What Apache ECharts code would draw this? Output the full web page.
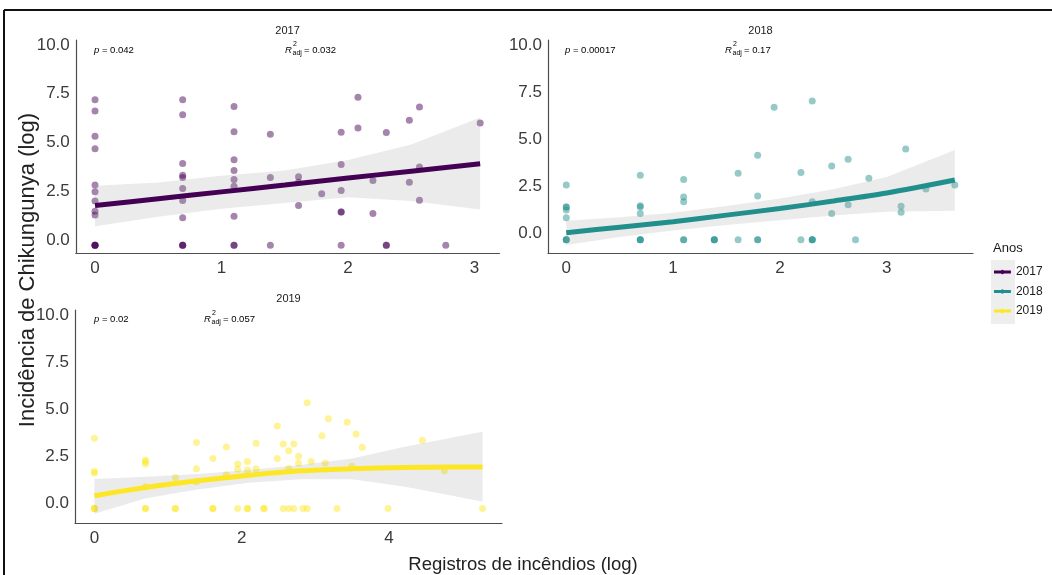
<!DOCTYPE html>
<html>
<head>
<meta charset="utf-8">
<script src="https://cdn.jsdelivr.net/npm/echarts@6/dist/echarts.min.js"></script>
<style>
  html, body { margin: 0; padding: 0; background: #ffffff; }
  #chart { width: 1052px; height: 575px; }
</style>
</head>
<body>
<div id="chart"></div>
<script>
// Facet years and their viridis colours
const years = ['2017', '2018', '2019'];
const yearColors = ['#440154', '#21908C', '#FDE725'];

// Observations per year: [log fire records, log chikungunya incidence]
const points2017 = [
  [0, 7.19], [0, 6.62], [0, 5.32], [0, 4.68], [0, 2.82], [0, 2.48], [0, 2.00], [0, 1.48], [0, 1.28],
  [0, -0.27], [0, -0.27], [0, -0.27], [0, -0.27],
  [0.693, 7.19], [0.693, 6.43], [0.693, 3.93], [0.693, 3.32], [0.693, 3.21], [0.693, 2.64], [0.693, 2.03],
  [0.693, 1.14], [0.693, -0.27], [0.693, -0.27], [0.693, -0.27],
  [1.099, 6.85], [1.099, 5.56], [1.099, 4.12], [1.099, 3.57], [1.099, 3.11], [1.099, 2.76], [1.099, 1.22],
  [1.099, -0.27], [1.099, -0.27],
  [1.386, 5.42], [1.386, 3.21], [1.386, -0.27],
  [1.609, 3.25], [1.609, 2.97], [1.609, 1.77],
  [1.792, 2.38],
  [1.946, 5.53], [1.946, 3.88], [1.946, 2.54], [1.946, 1.44], [1.946, 1.44], [1.946, -0.27],
  [2.079, 7.33], [2.079, 5.75],
  [2.197, 3.05], [2.197, 1.36],
  [2.303, 5.51], [2.303, -0.27], [2.303, -0.27],
  [2.485, 6.14], [2.485, 2.96],
  [2.565, 6.82], [2.565, 3.74], [2.565, 2.04],
  [2.773, -0.27],
  [3.045, 6.00]
];
const points2018 = [
  [0, 2.57], [0, 1.40], [0, 1.40], [0, 1.24], [0, 0.83], [0, -0.34], [0, -0.34], [0, -0.34],
  [0.693, 3.09], [0.693, 1.47], [0.693, 1.40], [0.693, 1.06], [0.693, -0.34], [0.693, -0.34], [0.693, -0.34],
  [1.099, 2.87], [1.099, 1.93], [1.099, 1.68], [1.099, -0.34], [1.099, -0.34],
  [1.386, -0.34], [1.386, -0.34], [1.386, -0.34],
  [1.609, 3.19], [1.609, -0.34],
  [1.792, 4.15], [1.792, 1.98], [1.792, -0.34], [1.792, -0.34],
  [1.946, 6.70],
  [2.197, 3.24], [2.197, -0.34],
  [2.303, 7.04], [2.303, 1.68], [2.303, -0.34], [2.303, -0.34], [2.303, -0.34],
  [2.485, 3.58], [2.485, 1.06],
  [2.639, 3.94], [2.639, 1.52],
  [2.708, -0.34],
  [2.833, 2.93],
  [3.135, 1.44], [3.135, 1.12],
  [3.178, 4.48],
  [3.367, 2.36],
  [3.638, 2.57]
];
const points2019 = [
  [0, 3.46], [0, 1.70], [0, 1.61], [0, -0.27], [0, -0.27], [0, -0.27],
  [0.693, 2.30], [0.693, 2.21], [0.693, 2.09], [0.693, 0.88], [0.693, -0.27], [0.693, -0.27],
  [1.099, 1.38], [1.099, -0.27], [1.099, -0.27],
  [1.386, 3.24], [1.386, 1.84], [1.386, 1.15],
  [1.609, 2.39], [1.609, -0.27], [1.609, -0.27],
  [1.792, 3.00], [1.792, 1.52],
  [1.946, 2.09], [1.946, 1.82], [1.946, -0.27],
  [2.079, 2.23], [2.079, 1.77], [2.079, -0.27], [2.079, -0.27],
  [2.197, 3.19], [2.197, 1.84],
  [2.303, -0.27], [2.303, -0.27],
  [2.485, 4.11], [2.485, 2.39],
  [2.565, 3.15], [2.565, -0.27],
  [2.639, 2.80], [2.639, 1.86], [2.639, -0.27],
  [2.708, 3.15], [2.708, -0.27],
  [2.773, 2.50], [2.773, 2.13],
  [2.833, -0.27],
  [2.890, 5.35], [2.890, -0.27],
  [2.944, 2.23],
  [3.091, 3.60],
  [3.135, 2.14],
  [3.178, 4.50],
  [3.296, -0.27],
  [3.434, 4.31],
  [3.497, 1.97],
  [3.555, 3.69],
  [3.638, 2.98],
  [3.989, -0.27],
  [4.454, 3.35],
  [4.754, 1.73],
  [5.273, -0.27]
];

// Fitted trend and its confidence band, sampled along x
const fitX2017 = [0, 0.5, 1, 1.5, 2, 2.5, 3.045];
const fitY2017 = [1.77, 2.12, 2.47, 2.82, 3.18, 3.53, 3.91];
const ciLow2017 = [0.71, 1.20, 1.60, 1.90, 2.20, 2.00, 1.57];
const ciHigh2017 = [2.78, 2.95, 3.30, 3.57, 4.10, 4.90, 6.29];

const fitX2018 = [0, 0.5, 1, 1.5, 2, 2.5, 3, 3.638];
const fitY2018 = [0.03, 0.33, 0.62, 0.97, 1.32, 1.72, 2.15, 2.84];
const ciLow2018 = [-0.62, -0.20, 0.15, 0.45, 0.70, 0.95, 1.15, 1.20];
const ciHigh2018 = [0.67, 0.86, 1.10, 1.45, 1.85, 2.35, 3.00, 4.43];

const fitX2019 = [0, 0.7, 1.4, 2.1, 2.8, 3.5, 4.2, 4.9, 5.273];
const fitY2019 = [0.40, 0.85, 1.20, 1.50, 1.73, 1.84, 1.91, 1.93, 1.93];
const ciLow2019 = [-0.55, 0.27, 0.74, 1.10, 1.28, 1.28, 0.90, 0.38, 0.08];
const ciHigh2019 = [1.29, 1.41, 1.56, 1.77, 2.04, 2.39, 3.00, 3.53, 3.81];

// Model statistics shown in each facet
const pValues = ['0.042', '0.00017', '0.02'];
const r2Values = ['0.032', '0.17', '0.057'];

// Tick values
const yTicks = [0, 2.5, 5, 7.5, 10];
const xTicks2017 = [0, 1, 2, 3];
const xTicks2018 = [0, 1, 2, 3];
const xTicks2019 = [0, 2, 4];

const FONT = '"Liberation Sans", Arial, Helvetica, sans-serif';
const AXIS_TEXT = '#3a3a3a';

const panels = [
  { points: points2017, fx: fitX2017, fy: fitY2017, lo: ciLow2017, hi: ciHigh2017, xTicks: xTicks2017 },
  { points: points2018, fx: fitX2018, fy: fitY2018, lo: ciLow2018, hi: ciHigh2018, xTicks: xTicks2018 },
  { points: points2019, fx: fitX2019, fy: fitY2019, lo: ciLow2019, hi: ciHigh2019, xTicks: xTicks2019 }
];

// Facet placement and axis ranges
const layout = [
  { left: 75.8, top: 40, width: 423.6, height: 213.3, xMin: -0.152, xMax: 3.197, yMin: -0.68, yMax: 10.26, titleY: 31, statY: 50, pX: 94, rX: 285 },
  { left: 548, top: 40, width: 425, height: 213.3, xMin: -0.171, xMax: 3.808, yMin: -1.06, yMax: 10.28, titleY: 31, statY: 50, pX: 565, rX: 725 },
  { left: 75, top: 310, width: 427, height: 213.3, xMin: -0.264, xMax: 5.537, yMin: -1.06, yMax: 10.28, titleY: 299, statY: 319, pX: 94, rX: 204 }
];

// Confidence ribbon: upper edge forward, lower edge back
function bandRenderer(xs, lo, hi) {
  return function (params, api) {
    const pts = [];
    for (let k = 0; k < xs.length; k++) pts.push(api.coord([xs[k], hi[k]]));
    for (let k = xs.length - 1; k >= 0; k--) pts.push(api.coord([xs[k], lo[k]]));
    return {
      type: 'polygon',
      shape: { points: pts },
      style: { fill: 'rgba(153,153,153,0.2)' }
    };
  };
}

const grids = [], xAxes = [], yAxes = [], series = [], graphics = [];

panels.forEach(function (p, i) {
  const L = layout[i];
  grids.push({ left: L.left, top: L.top, width: L.width, height: L.height, containLabel: false });
  xAxes.push({
    type: 'value', gridIndex: i, min: L.xMin, max: L.xMax,
    axisLine: { show: true, onZero: false, lineStyle: { color: '#4d4d4d', width: 1.2 } },
    axisTick: { show: false },
    splitLine: { show: false },
    axisLabel: {
      customValues: p.xTicks, margin: 7, fontSize: 17, color: AXIS_TEXT, fontFamily: FONT,
      formatter: function (v) { return String(v); }
    }
  });
  yAxes.push({
    type: 'value', gridIndex: i, min: L.yMin, max: L.yMax,
    axisLine: { show: true, onZero: false, lineStyle: { color: '#4d4d4d', width: 1.2 } },
    axisTick: { show: false },
    splitLine: { show: false },
    axisLabel: {
      customValues: yTicks, margin: 6, fontSize: 17, color: AXIS_TEXT, fontFamily: FONT,
      formatter: function (v) { return v.toFixed(1); }
    }
  });

  series.push({
    name: years[i], type: 'scatter', xAxisIndex: i, yAxisIndex: i,
    data: p.points, symbolSize: 7, z: 2,
    itemStyle: { color: yearColors[i], opacity: 0.48 },
    emphasis: { disabled: true }
  });
  series.push({
    name: years[i], type: 'custom', xAxisIndex: i, yAxisIndex: i,
    data: [[p.fx[0], p.fy[0]]], renderItem: bandRenderer(p.fx, p.lo, p.hi),
    silent: true, z: 3, clip: true
  });
  series.push({
    name: years[i], type: 'line', xAxisIndex: i, yAxisIndex: i,
    data: p.fx.map(function (x, k) { return [x, p.fy[k]]; }),
    showSymbol: false, smooth: 0.3, z: 4, silent: true,
    lineStyle: { color: yearColors[i], width: 5 },
    itemStyle: { color: yearColors[i] }
  });

  // facet strip title
  graphics.push({
    type: 'text', x: L.left + L.width / 2, y: L.titleY,
    style: { text: years[i], font: '11px ' + FONT, fill: '#1a1a1a', textAlign: 'center', textVerticalAlign: 'middle' }
  });
  // p-value
  graphics.push({
    type: 'text', x: L.pX, y: L.statY,
    style: {
      text: '{i|p}{n| = ' + pValues[i] + '}', textVerticalAlign: 'middle',
      rich: {
        i: { fontStyle: 'italic', fontSize: 9.5, fontFamily: FONT, fill: '#000' },
        n: { fontSize: 9.5, fontFamily: FONT, fill: '#000' }
      }
    }
  });
  // adjusted R squared
  graphics.push({ type: 'text', x: L.rX, y: L.statY,
    style: { text: 'R', font: 'italic 9.5px ' + FONT, fill: '#000', textVerticalAlign: 'middle' } });
  graphics.push({ type: 'text', x: L.rX + 8, y: L.statY - 6,
    style: { text: '2', font: '7px ' + FONT, fill: '#000', textVerticalAlign: 'middle' } });
  graphics.push({ type: 'text', x: L.rX + 7.5, y: L.statY + 3,
    style: { text: 'adj', font: '7px ' + FONT, fill: '#000', textVerticalAlign: 'middle' } });
  graphics.push({ type: 'text', x: L.rX + 19, y: L.statY,
    style: { text: '= ' + r2Values[i], font: '9.5px ' + FONT, fill: '#000', textVerticalAlign: 'middle' } });
});

// axis titles
graphics.push({
  type: 'text', x: 28, y: 270, rotation: Math.PI / 2,
  style: { text: 'Incidência de Chikungunya (log)', font: '22px ' + FONT, fill: '#222', textAlign: 'center', textVerticalAlign: 'middle' }
});
graphics.push({
  type: 'text', x: 523, y: 565,
  style: { text: 'Registros de incêndios (log)', font: '18.5px ' + FONT, fill: '#222', textAlign: 'center', textVerticalAlign: 'middle' }
});
// legend title and key background
graphics.push({
  type: 'text', x: 993, y: 248,
  style: { text: 'Anos', font: '13px ' + FONT, fill: '#1a1a1a', textVerticalAlign: 'middle' }
});
graphics.push({ type: 'rect', z: 0, shape: { x: 991, y: 260, width: 24, height: 64 }, style: { fill: '#eeeeee' } });
// frame
graphics.push({ type: 'line', shape: { x1: 4, y1: 10, x2: 1052, y2: 10 }, style: { stroke: '#111', lineWidth: 2 } });
graphics.push({ type: 'line', shape: { x1: 4, y1: 10, x2: 4, y2: 575 }, style: { stroke: '#111', lineWidth: 2 } });

const legendIcon = 'path://M0,0.75H8.2A2.5,2.5 0 0 1 11.8,0.75H20V4.25H11.8A2.5,2.5 0 0 1 8.2,4.25H0Z';

const chart = echarts.init(document.getElementById('chart'), null, { renderer: 'canvas' });
chart.setOption({
  backgroundColor: '#ffffff',
  animation: false,
  textStyle: { fontFamily: FONT },
  grid: grids,
  xAxis: xAxes,
  yAxis: yAxes,
  legend: {
    data: years.map(function (y, i) {
      return { name: y, icon: legendIcon, itemStyle: { color: yearColors[i], opacity: 1 } };
    }),
    orient: 'vertical', left: 994, top: 266, padding: 0, itemWidth: 17, itemHeight: 4.25, itemGap: 7.5,
    selectedMode: false, z: 5,
    textStyle: { fontSize: 12, color: '#1a1a1a', fontFamily: FONT }
  },
  graphic: { elements: graphics },
  series: series
});
</script>
</body>
</html>
